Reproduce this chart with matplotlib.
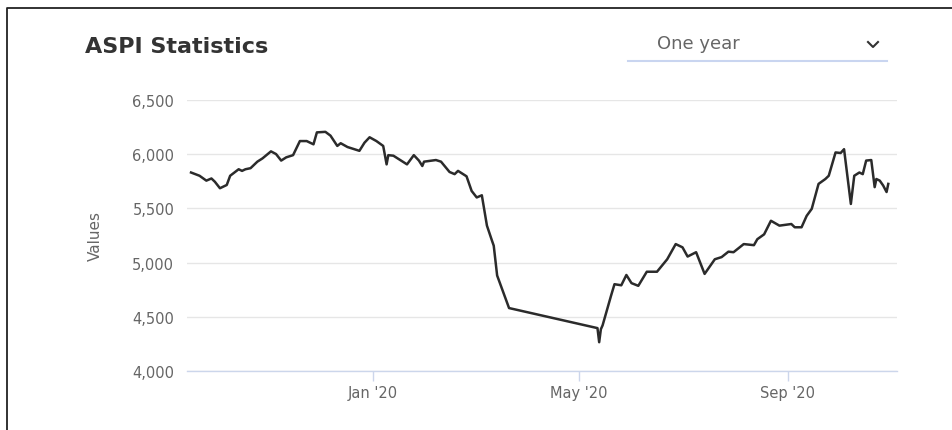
import numpy as np
import pandas as pd
import matplotlib
matplotlib.use("Agg")
from matplotlib import pyplot as plt
from matplotlib.lines import Line2D
from matplotlib.ticker import FuncFormatter

# ASPI closing values
dates = [
    "2019-09-16", "2019-09-21", "2019-09-25", "2019-09-28", "2019-09-30", "2019-10-03",
    "2019-10-07", "2019-10-09", "2019-10-14", "2019-10-16", "2019-10-18", "2019-10-21",
    "2019-10-25", "2019-10-28", "2019-11-02", "2019-11-05", "2019-11-08", "2019-11-11",
    "2019-11-15", "2019-11-19", "2019-11-23", "2019-11-27", "2019-11-29", "2019-12-04",
    "2019-12-07", "2019-12-11", "2019-12-13", "2019-12-17", "2019-12-24", "2019-12-27",
    "2019-12-30", "2020-01-03", "2020-01-07", "2020-01-09", "2020-01-10", "2020-01-13",
    "2020-01-21", "2020-01-25", "2020-01-28", "2020-01-30", "2020-01-31", "2020-02-07",
    "2020-02-10", "2020-02-15", "2020-02-18", "2020-02-20", "2020-02-25", "2020-02-28",
    "2020-03-02", "2020-03-05", "2020-03-08", "2020-03-11", "2020-03-12", "2020-03-14",
    "2020-03-21", "2020-05-12", "2020-05-13", "2020-05-14", "2020-05-15", "2020-05-20",
    "2020-05-22", "2020-05-26", "2020-05-29", "2020-06-01", "2020-06-05", "2020-06-10",
    "2020-06-16", "2020-06-22", "2020-06-27", "2020-07-01", "2020-07-04", "2020-07-09",
    "2020-07-14", "2020-07-20", "2020-07-24", "2020-07-28", "2020-07-31", "2020-08-06",
    "2020-08-12", "2020-08-14", "2020-08-18", "2020-08-22", "2020-08-27", "2020-09-03",
    "2020-09-05", "2020-09-09", "2020-09-12", "2020-09-15", "2020-09-19", "2020-09-23",
    "2020-09-25", "2020-09-29", "2020-10-02", "2020-10-04", "2020-10-08", "2020-10-10",
    "2020-10-13", "2020-10-15", "2020-10-17", "2020-10-20", "2020-10-22", "2020-10-23",
    "2020-10-25", "2020-10-27", "2020-10-29", "2020-10-30",
]
values = [
    5830, 5800, 5755, 5775, 5745, 5685,
    5715, 5800, 5860, 5845, 5860, 5870,
    5930, 5960, 6025, 6000, 5940, 5970,
    5990, 6120, 6120, 6090, 6200, 6205,
    6170, 6075, 6100, 6065, 6030, 6105,
    6155, 6120, 6075, 5905, 5990, 5985,
    5905, 5990, 5940, 5890, 5930, 5945,
    5930, 5835, 5815, 5845, 5795, 5660,
    5600, 5620, 5340, 5200, 5155, 4880,
    4580, 4395, 4265, 4385, 4420, 4695,
    4800, 4790, 4885, 4810, 4785, 4915,
    4915, 5030, 5170, 5140, 5055, 5095,
    4895, 5030, 5050, 5100, 5095, 5170,
    5160, 5215, 5260, 5385, 5340, 5355,
    5325, 5325, 5430, 5495, 5725, 5770,
    5800, 6015, 6010, 6045, 5540, 5800,
    5830, 5815, 5940, 5945, 5695, 5770,
    5755, 5710, 5650, 5725,
]
y_ticks = [4000, 4500, 5000, 5500, 6000, 6500]
x_ticks = ["2020-01-01", "2020-05-01", "2020-09-01"]
x_labels = ["Jan '20", "May '20", "Sep '20"]

df = pd.DataFrame({"date": pd.to_datetime(dates), "value": values})

fig = plt.figure(figsize=(9.53, 4.31), dpi=100)
ax = fig.add_axes([0.196, 0.137, 0.745, 0.629])

ax.plot(df["date"], df["value"], color="#2b2b2b", linewidth=1.8)

ax.set_ylim(4000, 6500)
ax.set_yticks(y_ticks)
ax.yaxis.set_major_formatter(FuncFormatter(lambda v, p: f"{int(v):,}"))
ax.set_xlim(pd.Timestamp("2019-09-13 12:00"), pd.Timestamp("2020-11-04"))
ax.set_xticks(pd.to_datetime(x_ticks))
ax.set_xticklabels(x_labels)

ax.grid(axis="y", color="#e6e6e6", linewidth=1)
ax.set_axisbelow(True)
for side in ["top", "right", "left"]:
    ax.spines[side].set_visible(False)
ax.spines["bottom"].set_color("#ccd6eb")
ax.spines["bottom"].set_linewidth(1)

ax.tick_params(axis="y", length=0, pad=9, labelsize=10.5, labelcolor="#666666")
ax.tick_params(axis="x", length=7, width=1, color="#ccd6eb", pad=3,
               labelsize=10.5, labelcolor="#666666")

ax.set_ylabel("Values", color="#666666", fontsize=11,
              family=["Liberation Sans Narrow", "DejaVu Sans"])
ax.yaxis.set_label_coords(-0.118, 0.5)

# header
fig.text(85 / 953, 1 - 47 / 431, "ASPI Statistics", fontsize=16, fontweight="bold",
         color="#333333", va="center", ha="left")
fig.text(657 / 953, 1 - 44 / 431, "One year", fontsize=13, color="#666666",
         va="center", ha="left")
fig.add_artist(Line2D([628 / 953, 887 / 953], [1 - 62 / 431, 1 - 62 / 431],
                      color="#c9d5f0", linewidth=1.5, transform=fig.transFigure))
fig.add_artist(Line2D([868 / 953, 873 / 953, 878 / 953],
                      [1 - 43 / 431, 1 - 48 / 431, 1 - 43 / 431],
                      color="#333333", linewidth=1.5, transform=fig.transFigure))

# screenshot frame
fig.add_artist(Line2D([7 / 953, 7 / 953, 1.0], [0.0, 1 - 9 / 431, 1 - 9 / 431],
                      color="#222222", linewidth=1.3, transform=fig.transFigure))

plt.savefig("out.png", dpi=100)
plt.close()
